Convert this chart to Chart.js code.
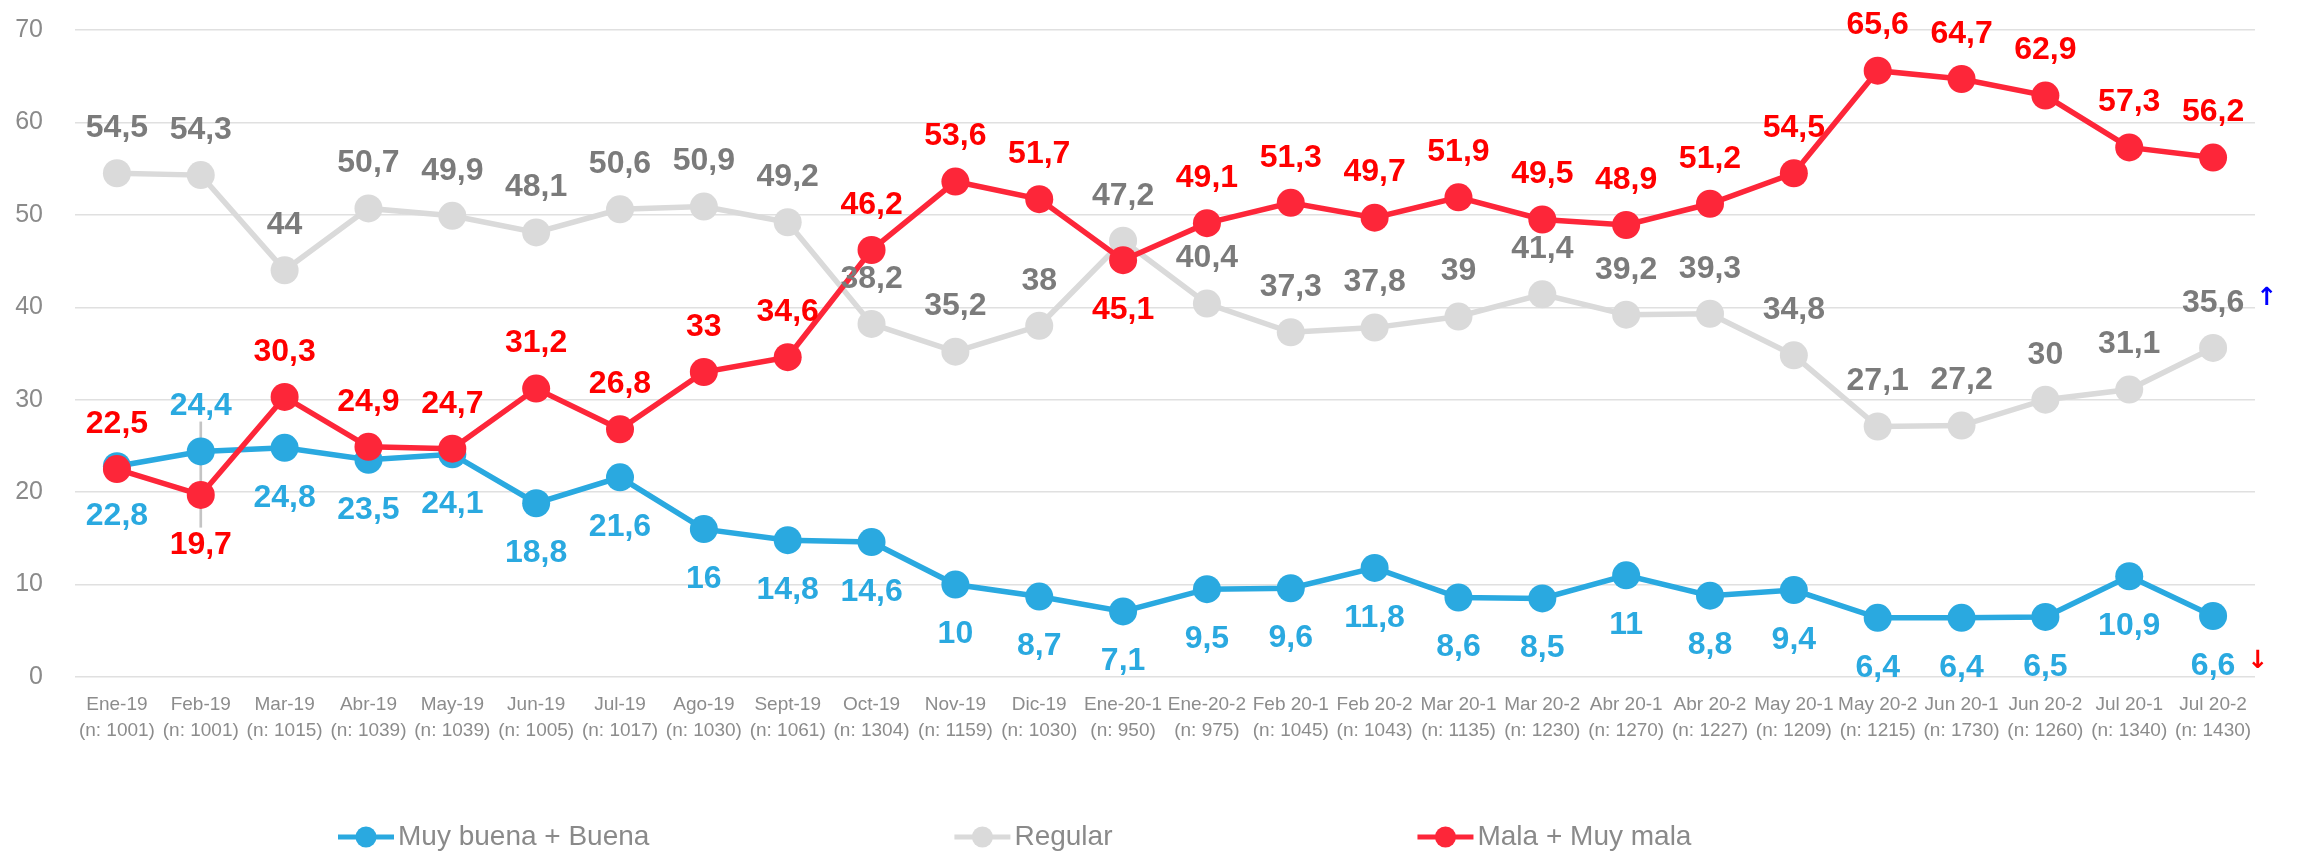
<!DOCTYPE html>
<html lang="es">
<head>
<meta charset="UTF-8">
<title>Evaluación</title>
<script src="https://cdn.jsdelivr.net/npm/chart.js"></script>
<style>
  body { margin: 0; background: #fff; }
</style>
</head>
<body>
<canvas id="evalChart" width="2297" height="853"></canvas>
<script>
// categories: month + sample size (two lines)
const months = ['Ene-19', 'Feb-19', 'Mar-19', 'Abr-19', 'May-19', 'Jun-19', 'Jul-19', 'Ago-19', 'Sept-19',
  'Oct-19', 'Nov-19', 'Dic-19', 'Ene-20-1', 'Ene-20-2', 'Feb 20-1', 'Feb 20-2', 'Mar 20-1', 'Mar 20-2',
  'Abr 20-1', 'Abr 20-2', 'May 20-1', 'May 20-2', 'Jun 20-1', 'Jun 20-2', 'Jul 20-1', 'Jul 20-2'];
const sampleSizes = [1001, 1001, 1015, 1039, 1039, 1005, 1017, 1030, 1061, 1304, 1159, 1030, 950, 975,
  1045, 1043, 1135, 1230, 1270, 1227, 1209, 1215, 1730, 1260, 1340, 1430];

const buena = [22.8, 24.4, 24.8, 23.5, 24.1, 18.8, 21.6, 16, 14.8, 14.6, 10, 8.7, 7.1, 9.5, 9.6, 11.8,
  8.6, 8.5, 11, 8.8, 9.4, 6.4, 6.4, 6.5, 10.9, 6.6];
const regular = [54.5, 54.3, 44, 50.7, 49.9, 48.1, 50.6, 50.9, 49.2, 38.2, 35.2, 38, 47.2, 40.4, 37.3, 37.8,
  39, 41.4, 39.2, 39.3, 34.8, 27.1, 27.2, 30, 31.1, 35.6];
const mala = [22.5, 19.7, 30.3, 24.9, 24.7, 31.2, 26.8, 33, 34.6, 46.2, 53.6, 51.7, 45.1, 49.1, 51.3, 49.7,
  51.9, 49.5, 48.9, 51.2, 54.5, 65.6, 64.7, 62.9, 57.3, 56.2];
// thin grey range line shown at Feb-19
const febRange = [null, [16.2, 27.6]];

const yTicks = { min: 0, max: 70, step: 10 };

const labels = months.map((m, i) => [m, '(n: ' + sampleSizes[i] + ')']);

const FONT = '"Liberation Sans", Arial, sans-serif';

// draws the value labels (comma decimals) and the trend arrows
const valueLabels = {
  id: 'valueLabels',
  afterDatasetsDraw(chart) {
    const ctx = chart.ctx;
    chart.data.datasets.forEach((ds, i) => {
      if (!ds.labelColor) return;
      const meta = chart.getDatasetMeta(i);
      ctx.save();
      ctx.font = 'bold 32px ' + FONT;
      ctx.textAlign = 'center';
      ctx.textBaseline = 'middle';
      meta.data.forEach((pt, j) => {
        let below = ds.labelBelow;
        if (ds.flip.includes(j)) below = !below;
        const y = below ? pt.y + 50 : pt.y - 45;
        const txt = String(ds.data[j]).replace('.', ',');
        ctx.fillStyle = ds.labelColor;
        ctx.fillText(txt, pt.x, y);
        if (j === ds.data.length - 1 && ds.trend) {
          const w = ctx.measureText(txt).width;
          ctx.save();
          ctx.font = 'bold 25px "DejaVu Sans"';
          ctx.fillStyle = ds.trendColor;
          ctx.textAlign = 'left';
          ctx.fillText(ds.trend, pt.x + w / 2 + 12, y - 4);
          ctx.restore();
        }
      });
      ctx.restore();
    });
  }
};

// legend row under the chart, Excel style (line with marker)
const legendRow = {
  id: 'legendRow',
  afterDraw(chart, args, opts) {
    const ctx = chart.ctx;
    ctx.save();
    ctx.font = '28px ' + FONT;
    ctx.textBaseline = 'middle';
    let x = opts.x;
    const y = opts.y;
    chart.data.datasets.forEach(ds => {
      if (!ds.labelColor) return;
      ctx.strokeStyle = ds.borderColor;
      ctx.lineWidth = 5;
      ctx.beginPath();
      ctx.moveTo(x, y);
      ctx.lineTo(x + 56, y);
      ctx.stroke();
      ctx.fillStyle = ds.pointBackgroundColor;
      ctx.beginPath();
      ctx.arc(x + 28, y, 10.5, 0, Math.PI * 2);
      ctx.fill();
      ctx.fillStyle = '#8a8a8a';
      ctx.fillText(ds.label, x + 60, y);
      x += 60 + ctx.measureText(ds.label).width + opts.gap;
    });
    ctx.restore();
  }
};

const ctx = document.getElementById('evalChart').getContext('2d');
new Chart(ctx, {
  data: {
    labels: labels,
    datasets: [
      {
        type: 'line',
        label: 'Muy buena + Buena',
        data: buena,
        borderColor: '#2aa9e0',
        pointBackgroundColor: '#2aa9e0',
        labelColor: '#2aa9e0',
        labelBelow: true,
        flip: [1],
        trend: '↓',
        trendColor: '#ff0000',
        order: 1
      },
      {
        type: 'line',
        label: 'Regular',
        data: regular,
        borderColor: '#dadada',
        pointBackgroundColor: '#dadada',
        labelColor: '#7b7b7b',
        labelBelow: false,
        flip: [],
        trend: '↑',
        trendColor: '#0000ff',
        order: 2
      },
      {
        type: 'line',
        label: 'Mala + Muy mala',
        data: mala,
        borderColor: '#fd2639',
        pointBackgroundColor: '#fd2639',
        labelColor: '#ff0000',
        labelBelow: false,
        flip: [1, 12],
        order: 0
      },
      {
        type: 'bar',
        label: 'rango',
        data: febRange,
        backgroundColor: '#c4c4c4',
        barThickness: 2,
        order: 3
      }
    ]
  },
  options: {
    responsive: false,
    devicePixelRatio: 1,
    animation: false,
    layout: { padding: { top: 30, right: 42, bottom: 96, left: 0 } },
    elements: {
      line: { borderWidth: 5.5, tension: 0 },
      point: { radius: 14, borderWidth: 0, hoverRadius: 14 }
    },
    plugins: {
      legend: { display: false },
      tooltip: { enabled: false },
      legendRow: { x: 338, y: 837, gap: 305 }
    },
    scales: {
      x: {
        offset: true,
        afterFit(scale) { scale.height = 80; },
        grid: { display: false, drawTicks: false },
        border: { display: false },
        ticks: {
          autoSkip: false,
          maxRotation: 0,
          minRotation: 0,
          padding: 15,
          color: '#8c8c8c',
          font: { family: FONT, size: 19, lineHeight: 1.35 }
        }
      },
      y: {
        min: yTicks.min,
        max: yTicks.max,
        afterFit(scale) {
          scale.width = 75;
          // the big label padding would otherwise push the plot down
          scale.paddingTop = 0;
          scale.paddingBottom = 0;
        },
        grid: { color: '#e0e0e0', lineWidth: 1.5, drawTicks: false },
        border: { display: false },
        ticks: {
          stepSize: yTicks.step,
          padding: 32,
          color: '#8a8a8a',
          font: { family: FONT, size: 25 }
        }
      }
    }
  },
  plugins: [valueLabels, legendRow]
});
</script>
</body>
</html>
